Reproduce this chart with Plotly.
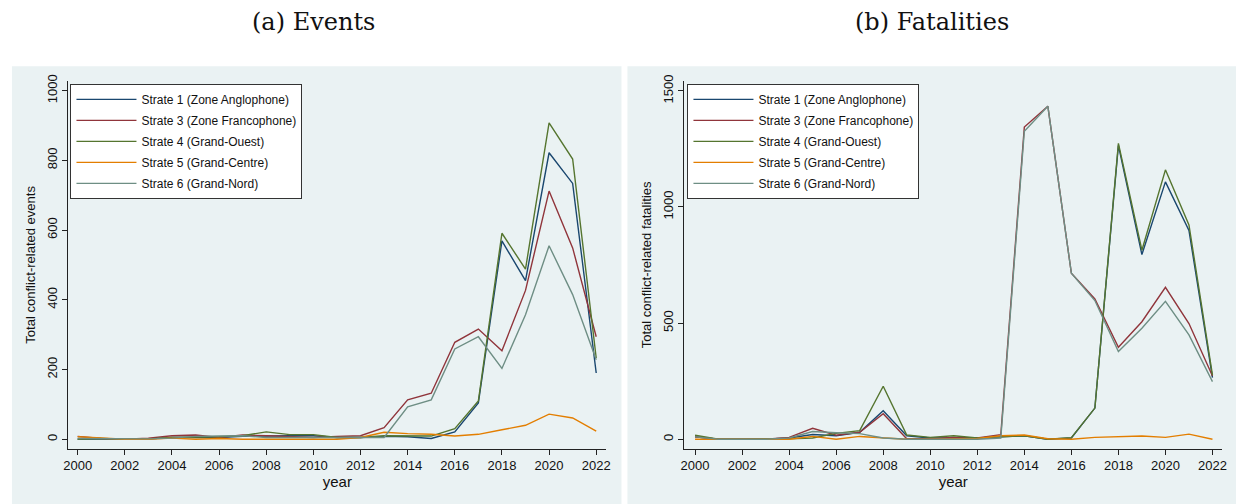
import plotly.graph_objects as go

years = list(range(2000, 2023))
series_names = [
    "Strate 1 (Zone Anglophone)",
    "Strate 3 (Zone Francophone)",
    "Strate 4 (Grand-Ouest)",
    "Strate 5 (Grand-Centre)",
    "Strate 6 (Grand-Nord)",
]
series_colors = ["#1A476F", "#90353B", "#55752F", "#E37E00", "#6E8E84"]

events_s1 = [0, 1, 0, 1, 5, 5, 5, 8, 10, 10, 10, 5, 5, 8, 7, 2, 21, 104, 569, 455, 822, 734, 190]
events_s3 = [8, 2, 0, 3, 10, 12, 5, 12, 10, 8, 5, 8, 10, 33, 113, 132, 278, 316, 254, 427, 712, 549, 294]
events_s4 = [0, 2, 0, 1, 5, 5, 7, 10, 21, 13, 13, 5, 5, 10, 10, 9, 30, 110, 591, 488, 908, 804, 233]
events_s5 = [7, 3, 0, 0, 3, 0, 2, 0, 0, 0, 0, 0, 5, 20, 16, 14, 9, 14, 27, 40, 72, 61, 23]
events_s6 = [2, 2, 0, 1, 3, 8, 9, 10, 5, 5, 5, 5, 3, 5, 93, 113, 259, 294, 203, 357, 555, 415, 228]

fatal_s1 = [10, 0, 0, 0, 5, 20, 15, 30, 123, 15, 5, 5, 5, 10, 15, 0, 5, 134, 1265, 795, 1108, 899, 265]
fatal_s3 = [10, 0, 0, 0, 8, 47, 17, 30, 110, 2, 2, 8, 5, 20, 1344, 1434, 715, 604, 396, 506, 654, 498, 272]
fatal_s4 = [17, 0, 0, 0, 2, 5, 25, 37, 228, 18, 8, 15, 5, 10, 15, 0, 7, 134, 1274, 814, 1160, 923, 276]
fatal_s5 = [0, 0, 0, 0, 0, 12, 0, 12, 5, 0, 0, 0, 3, 15, 18, 2, 0, 8, 10, 14, 8, 22, 0]
fatal_s6 = [10, 0, 0, 0, 5, 33, 28, 24, 5, 0, 0, 0, 0, 5, 1326, 1434, 715, 597, 378, 478, 594, 449, 248]

x_ticks = list(range(2000, 2023, 2))
events_ticks = [0, 200, 400, 600, 800, 1000]
fatal_ticks = [0, 500, 1000, 1500]

events = [events_s1, events_s3, events_s4, events_s5, events_s6]
fatal = [fatal_s1, fatal_s3, fatal_s4, fatal_s5, fatal_s6]

W, H = 1241, 504
BG = "#EAF2F3"
SANS = "Liberation Sans, Arial, Helvetica, sans-serif"

fig = go.Figure()
for i, (name, col) in enumerate(zip(series_names, series_colors)):
    fig.add_trace(go.Scatter(x=years, y=events[i], mode="lines", name=name,
                             line=dict(color=col, width=1.4),
                             xaxis="x", yaxis="y", legend="legend",
                             legendgroup="a%d" % i))
for i, (name, col) in enumerate(zip(series_names, series_colors)):
    fig.add_trace(go.Scatter(x=years, y=fatal[i], mode="lines", name=name,
                             line=dict(color=col, width=1.4),
                             xaxis="x2", yaxis="y2", legend="legend2",
                             legendgroup="b%d" % i))

def px_x(p):
    return p / W

def px_y(p):
    return (H - p) / H

axis_common = dict(showline=True, linecolor="#222", linewidth=1, ticks="outside",
                   ticklen=5, tickcolor="#222", zeroline=False,
                   tickfont=dict(family=SANS, size=13, color="#111"))

legend_common = dict(xanchor="left", yanchor="top",
                     bgcolor="white", bordercolor="#333", borderwidth=1,
                     font=dict(family=SANS, size=12, color="#111"),
                     traceorder="grouped", tracegroupgap=2, itemwidth=60)

fig.update_layout(
    width=W, height=H, margin=dict(l=0, r=0, t=0, b=0),
    paper_bgcolor="white", plot_bgcolor="white",
    xaxis=dict(domain=[px_x(64), px_x(606)], range=[1999.61, 2022.42],
               tickvals=x_ticks, showgrid=False, anchor="y",
               title=dict(text="year", font=dict(family=SANS, size=15, color="#111"), standoff=2),
               **axis_common),
    yaxis=dict(domain=[px_y(448), px_y(75)], range=[-27.5, 1028], tickvals=events_ticks,
               tickangle=-90, showgrid=True, gridcolor=BG, gridwidth=1.2, anchor="x",
               title=dict(text="Total conflict-related events", font=dict(family=SANS, size=13, color="#111"), standoff=6),
               **axis_common),
    xaxis2=dict(domain=[px_x(685), px_x(1227)], range=[1999.55, 2022.41],
                tickvals=x_ticks, showgrid=False, anchor="y2",
                title=dict(text="year", font=dict(family=SANS, size=15, color="#111"), standoff=2),
                **axis_common),
    yaxis2=dict(domain=[px_y(448), px_y(75)], range=[-41.2, 1542.7], tickvals=fatal_ticks,
                tickangle=-90, showgrid=True, gridcolor=BG, gridwidth=1.2, anchor="x2",
                title=dict(text="Total conflict-related fatalities", font=dict(family=SANS, size=13, color="#111"), standoff=6),
                **axis_common),
    legend=dict(x=px_x(66), y=px_y(78), **legend_common),
    legend2=dict(x=px_x(688), y=px_y(78), **legend_common),
    showlegend=True,
)

# panel backgrounds
fig.add_shape(type="rect", xref="paper", yref="paper", x0=px_x(7), x1=px_x(621.5),
              y0=0, y1=px_y(60), fillcolor=BG, line=dict(width=0), layer="below")
fig.add_shape(type="rect", xref="paper", yref="paper", x0=px_x(627.5), x1=1,
              y0=0, y1=px_y(60), fillcolor=BG, line=dict(width=0), layer="below")

SERIF = "DejaVu Serif, Liberation Serif, serif"
fig.add_annotation(text="(a) Events", xref="paper", yref="paper", x=px_x(311), y=px_y(15),
                   xanchor="center", yanchor="middle",
                   showarrow=False, font=dict(family=SERIF, size=24, color="#111"))
fig.add_annotation(text="(b) Fatalities", xref="paper", yref="paper", x=px_x(935), y=px_y(15),
                   xanchor="center", yanchor="middle",
                   showarrow=False, font=dict(family=SERIF, size=24, color="#111"))

fig.write_html("out.html", config={"displayModeBar": False},
               post_script="document.body.style.margin='0';document.body.style.padding='0';"
                           "document.body.style.overflow='hidden';")
